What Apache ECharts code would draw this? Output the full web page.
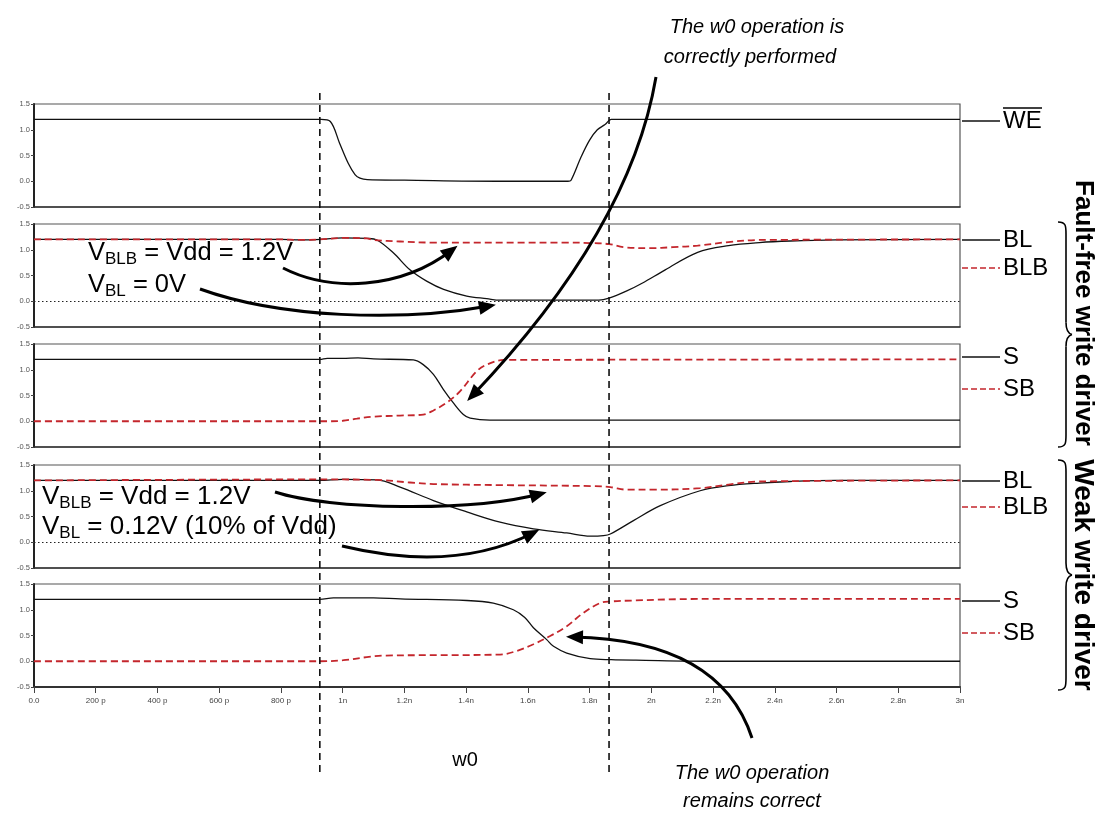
<!DOCTYPE html>
<html><head><meta charset="utf-8">
<script src="https://cdn.jsdelivr.net/npm/echarts@6/dist/echarts.min.js"></script>
<style>html,body{margin:0;padding:0;background:#fff}#c{width:1095px;height:816px}</style>
</head><body><div id="c"></div>
<script>
// ---- tick labels ----
const xTickLabels = ['0.0','200 p','400 p','600 p','800 p','1n','1.2n','1.4n','1.6n','1.8n','2n','2.2n','2.4n','2.6n','2.8n','3n'];
const yTickValues = [-0.5, 0.0, 0.5, 1.0, 1.5];

// ---- data (time in ns, voltage in V) ----
const weT = [0, 0.93, 0.96, 0.99, 1.018, 1.04, 1.056, 1.08, 1.2, 1.5, 1.73, 1.74, 1.773, 1.80, 1.825, 1.85, 1.87, 3.0];
const weV = [1.2, 1.2, 1.16, 0.74, 0.35, 0.13, 0.06, 0.03, 0.02, 0.0, 0.0, 0.02, 0.48, 0.8, 1.0, 1.1, 1.2, 1.2];

const ffBlT = [0, 0.8, 0.86, 0.93, 1.0, 1.08, 1.111, 1.164, 1.218, 1.272, 1.327, 1.402, 1.467, 1.51, 1.83, 1.863, 1.917, 1.97, 2.045, 2.15, 2.25, 2.35, 2.45, 2.6, 3.0];
const ffBlV = [1.2, 1.2, 1.19, 1.2, 1.23, 1.22, 1.19, 0.94, 0.61, 0.39, 0.23, 0.10, 0.05, 0.02, 0.02, 0.06, 0.19, 0.35, 0.61, 0.95, 1.08, 1.14, 1.17, 1.19, 1.2];
const ffBlbT = [0, 0.8, 0.86, 0.926, 1.0, 1.078, 1.10, 1.186, 1.29, 1.727, 1.80, 1.863, 1.91, 1.995, 2.07, 2.15, 2.25, 2.35, 3.0];
const ffBlbV = [1.2, 1.2, 1.19, 1.2, 1.23, 1.22, 1.19, 1.16, 1.14, 1.14, 1.13, 1.11, 1.05, 1.03, 1.05, 1.08, 1.15, 1.19, 1.2];

const ffST = [0, 0.926, 0.95, 1.0, 1.05, 1.1, 1.229, 1.261, 1.294, 1.326, 1.358, 1.391, 1.413, 1.477, 3.0];
const ffSV = [1.2, 1.2, 1.22, 1.22, 1.23, 1.21, 1.19, 1.10, 0.91, 0.62, 0.36, 0.13, 0.06, 0.02, 0.02];
const ffSbT = [0, 0.95, 1.0, 1.046, 1.1, 1.186, 1.261, 1.294, 1.337, 1.38, 1.434, 1.467, 1.521, 3.0];
const ffSbV = [0.0, 0.0, 0.01, 0.05, 0.09, 0.11, 0.13, 0.21, 0.36, 0.58, 0.97, 1.10, 1.19, 1.2];

const wkBlT = [0, 0.926, 1.0, 1.111, 1.186, 1.294, 1.402, 1.51, 1.618, 1.726, 1.802, 1.845, 1.867, 1.942, 2.029, 2.158, 2.25, 2.35, 2.45, 2.6, 3.0];
const wkBlV = [1.2, 1.2, 1.22, 1.21, 1.07, 0.81, 0.59, 0.39, 0.26, 0.18, 0.12, 0.13, 0.16, 0.42, 0.71, 1.0, 1.1, 1.15, 1.18, 1.2, 1.2];
const wkBlbT = [0, 0.926, 1.111, 1.218, 1.294, 1.51, 1.813, 1.867, 1.921, 2.0, 2.158, 2.25, 2.35, 3.0];
const wkBlbV = [1.2, 1.22, 1.21, 1.16, 1.13, 1.11, 1.09, 1.07, 1.02, 1.02, 1.05, 1.12, 1.18, 1.2];

const wkST = [0, 0.926, 0.97, 1.1, 1.186, 1.402, 1.488, 1.553, 1.59, 1.618, 1.661, 1.683, 1.726, 1.802, 1.87, 1.95, 2.2, 3.0];
const wkSV = [1.2, 1.2, 1.23, 1.23, 1.21, 1.18, 1.13, 1.0, 0.85, 0.65, 0.42, 0.29, 0.16, 0.05, 0.03, 0.02, 0.0, 0.0];
const wkSbT = [0, 0.926, 1.002, 1.078, 1.132, 1.51, 1.564, 1.618, 1.672, 1.726, 1.78, 1.834, 1.867, 1.942, 2.158, 3.0];
const wkSbV = [0.0, 0.0, 0.02, 0.08, 0.11, 0.13, 0.2, 0.33, 0.49, 0.68, 0.94, 1.13, 1.16, 1.18, 1.21, 1.21];

// operation window boundaries (ns)
const opMarkers = [0.926, 1.863];

// ---- helpers ----
const FONT = '"Liberation Sans", Arial, sans-serif';
const RED = '#c4262c';
const zip = (t, v) => t.map((x, i) => [x, v[i]]);

const panelTops = [104, 224, 344, 465, 584];
const panelH = 103;

const grids = panelTops.map(t => ({left: 34, width: 926, top: t, height: panelH,
  show: true, borderColor: '#555', borderWidth: 1.2, backgroundColor: 'transparent'}));

const xAxes = panelTops.map((t, i) => ({
  type: 'value', gridIndex: i, min: 0, max: 3, interval: 0.2,
  axisLine: {show: true, onZero: false, lineStyle: {color: '#333', width: i === 4 ? 2 : 1.5}},
  axisTick: {show: i === 4, length: 6, lineStyle: {color: '#444'}},
  axisLabel: {show: i === 4, fontSize: 8, color: '#444', margin: 10, fontFamily: FONT,
    formatter: v => xTickLabels[Math.round(v / 0.2)]},
  splitLine: {show: false}
}));

const yAxes = panelTops.map((t, i) => ({
  type: 'value', gridIndex: i, min: yTickValues[0], max: yTickValues[yTickValues.length - 1], interval: 0.5,
  axisLine: {show: true, lineStyle: {color: '#222', width: 2}},
  axisTick: {show: true, length: 3, lineStyle: {color: '#444'}},
  axisLabel: {fontSize: 7.5, color: '#555', margin: 4, fontFamily: FONT, formatter: v => v.toFixed(1)},
  splitLine: {show: false}
}));

function blackLine(i, t, v, extra) {
  return Object.assign({type: 'line', xAxisIndex: i, yAxisIndex: i, data: zip(t, v), showSymbol: false,
    smooth: 0.35, lineStyle: {color: '#111', width: 1.3}, z: 2, silent: true}, extra || {});
}
function redLine(i, t, v) {
  return {type: 'line', xAxisIndex: i, yAxisIndex: i, data: zip(t, v), showSymbol: false,
    smooth: 0.35, lineStyle: {color: RED, width: 1.8, type: [7, 4]}, z: 3, silent: true};
}
const zeroLine = {markLine: {silent: true, symbol: 'none', label: {show: false},
  lineStyle: {color: '#222', type: [1.5, 2.5], width: 1}, data: [{yAxis: 0}]}};

const series = [
  blackLine(0, weT, weV),
  blackLine(1, ffBlT, ffBlV, zeroLine), redLine(1, ffBlbT, ffBlbV),
  blackLine(2, ffST, ffSV), redLine(2, ffSbT, ffSbV),
  blackLine(3, wkBlT, wkBlV, zeroLine), redLine(3, wkBlbT, wkBlbV),
  blackLine(4, wkST, wkSV), redLine(4, wkSbT, wkSbV)
];

const chart = echarts.init(document.getElementById('c'), null, {renderer: 'canvas'});
chart.setOption({animation: false, backgroundColor: '#fff', grid: grids, xAxis: xAxes, yAxis: yAxes, series: series});

// ---- annotations ----
const g = [];
const mctx = document.createElement('canvas').getContext('2d');
function tw(str, size, weight) { mctx.font = (weight || '') + ' ' + size + 'px ' + FONT; return mctx.measureText(str).width; }
function txt(x, y, s, size, opts) {
  opts = opts || {};
  g.push({type: 'text', x: x, y: y, rotation: opts.rotation || 0, z: 10,
    style: {text: s, fill: opts.fill || '#000', font: (opts.italic ? 'italic ' : '') + (opts.bold ? 'bold ' : '') + size + 'px ' + FONT,
      align: opts.align || 'left', verticalAlign: opts.va || 'middle'}});
}
function subText(x, y, parts) {
  let cx = x;
  parts.forEach(p => {
    txt(cx, y + (p[2] || 0), p[0], p[1]);
    cx += tw(p[0], p[1]);
  });
}
function line(x1, y1, x2, y2, color, width, dash) {
  g.push({type: 'line', z: 10, shape: {x1, y1, x2, y2}, style: {stroke: color, lineWidth: width, lineDash: dash || null}});
}
function bez(p0, c1, c2, p3, w) {
  g.push({type: 'bezierCurve', z: 11, shape: {x1: p0[0], y1: p0[1], cpx1: c1[0], cpy1: c1[1], cpx2: c2[0], cpy2: c2[1], x2: p3[0], y2: p3[1]},
    style: {stroke: '#000', lineWidth: w, fill: null}});
}
function arrow(p0, c1, c2, p3, w) {
  if (!c2) { // quadratic -> cubic
    const q = c1;
    c1 = [p0[0] + 2 / 3 * (q[0] - p0[0]), p0[1] + 2 / 3 * (q[1] - p0[1])];
    c2 = [p3[0] + 2 / 3 * (q[0] - p3[0]), p3[1] + 2 / 3 * (q[1] - p3[1])];
  }
  bez(p0, c1, c2, p3, w || 3);
  let dx = p3[0] - c2[0], dy = p3[1] - c2[1];
  const L = Math.hypot(dx, dy); dx /= L; dy /= L;
  const hl = 17, hw = 7;
  const tip = [p3[0] + dx * 7, p3[1] + dy * 7];
  const base = [tip[0] - dx * hl, tip[1] - dy * hl];
  g.push({type: 'polygon', z: 12, shape: {points: [tip, [base[0] - dy * hw, base[1] + dx * hw], [base[0] + dy * hw, base[1] - dx * hw]]},
    style: {fill: '#000'}});
}

// dashed operation-window lines from the library's x scale
opMarkers.forEach(t => {
  const px = chart.convertToPixel({xAxisIndex: 4}, t);
  line(px, 93, px, 775, '#111', 1.6, [7, 5]);
});

// right-side labels
const lx1 = 962, lx2 = 1000, tx = 1003;
function legendRow(y, label, red) {
  line(lx1, y, lx2, y, red ? RED : '#111', red ? 1.6 : 1.3, red ? [6, 3] : null);
  txt(tx, y, label, 24);
}
legendRow(121, 'WE', false);
line(1003, 108, 1042, 108, '#000', 1.4);
legendRow(240, 'BL', false);
legendRow(268, 'BLB', true);
legendRow(357, 'S', false);
legendRow(389, 'SB', true);
legendRow(481, 'BL', false);
legendRow(507, 'BLB', true);
legendRow(601, 'S', false);
legendRow(633, 'SB', true);

// braces
function brace(y0, y1, x0, x1) {
  const ym = (y0 + y1) / 2, xm = x1 + 6;
  bez([x0, y0], [x1, y0], [x1, y0 + 4], [x1, y0 + 12], 1.6);
  line(x1, y0 + 12, x1, ym - 12, '#000', 1.6);
  bez([x1, ym - 12], [x1, ym - 4], [x1 + 2, ym - 1], [xm, ym], 1.6);
  bez([xm, ym], [x1 + 2, ym + 1], [x1, ym + 4], [x1, ym + 12], 1.6);
  line(x1, ym + 12, x1, y1 - 12, '#000', 1.6);
  bez([x1, y1 - 12], [x1, y1 - 4], [x1, y1], [x0, y1], 1.6);
}
brace(222, 447, 1058, 1066);
brace(460, 690, 1058, 1066);
txt(1083, 313, 'Fault-free write driver', 26, {bold: true, align: 'center', rotation: -Math.PI / 2});
txt(1083, 575, 'Weak write driver', 28, {bold: true, align: 'center', rotation: -Math.PI / 2});

// in-panel annotations
subText(88, 253, [['V', 25.5], ['BLB', 17, 6], [' = Vdd = 1.2V', 25.5]]);
subText(88, 285, [['V', 25.5], ['BL', 17, 6], [' = 0V', 25.5]]);
subText(42, 497, [['V', 26], ['BLB', 17, 6], [' = Vdd = 1.2V', 26]]);
subText(42, 527, [['V', 26], ['BL', 17, 6], [' = 0.12V (10% of Vdd)', 26]]);

// titles
txt(757, 27, 'The w0 operation is', 20, {italic: true, align: 'center'});
txt(750, 57, 'correctly performed', 20, {italic: true, align: 'center'});
txt(752, 773, 'The w0 operation', 20, {italic: true, align: 'center'});
txt(752, 801, 'remains correct', 20, {italic: true, align: 'center'});
txt(465, 760, 'w0', 20, {align: 'center'});

// arrows
arrow([283, 268], [330, 292], [400, 290], [452, 250]);
arrow([200, 289], [280, 318], [400, 322], [489, 306]);
arrow([656, 77], [630, 230], null, [472, 396]);
arrow([275, 492], [330, 510], [470, 512], [540, 494]);
arrow([342, 546], [400, 560], [470, 565], [533, 533]);
arrow([752, 738], [720, 640], null, [573, 637]);

chart.setOption({graphic: g});
</script>
</body></html>
